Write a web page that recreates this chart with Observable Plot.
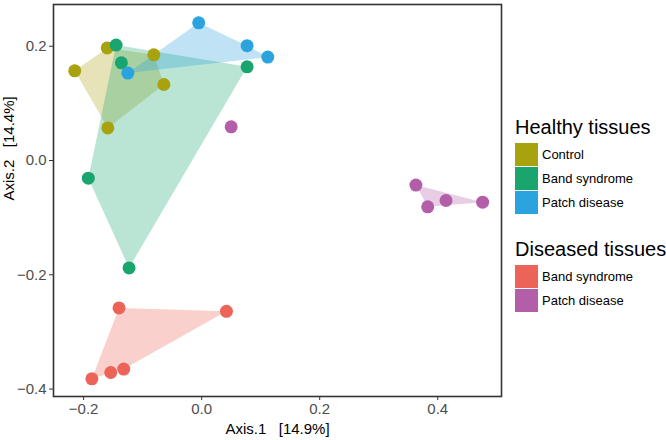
<!DOCTYPE html>
<html>
<head>
<meta charset="utf-8">
<script src="https://cdn.jsdelivr.net/npm/d3@7"></script>
<script src="https://cdn.jsdelivr.net/npm/@observablehq/plot@0.6"></script>
<style>
  html, body { margin: 0; padding: 0; background: #fff; }
  body { width: 666px; height: 440px; position: relative; overflow: hidden; font-family: "Liberation Sans", Arial, sans-serif; }
  #chart { position: absolute; left: 0; top: 0; }
  #legend { position: absolute; left: 515px; top: 114px; color: #000; }
  .lg-title { font-size: 20px; line-height: 26px; height: 28px; white-space: nowrap; }
  .lg-row { display: flex; align-items: center; height: 24px; }
  .lg-key { width: 23px; height: 23px; margin-right: 4px; }
  .lg-label { font-size: 13px; }
  .lg-gap { height: 22px; }
</style>
</head>
<body>
<div id="chart"></div>
<div id="legend"></div>
<script>
// Group names and colours
const groupKeys = ["H-Control", "H-Band", "H-Patch", "D-Band", "D-Patch"];
const groupColors = ["#A8A20F", "#1BA56E", "#2AA3DF", "#EC6457", "#B25EA8"];
const legendSections = [
  { title: "Healthy tissues", keys: ["H-Control", "H-Band", "H-Patch"], labels: ["Control", "Band syndrome", "Patch disease"] },
  { title: "Diseased tissues", keys: ["D-Band", "D-Patch"], labels: ["Band syndrome", "Patch disease"] }
];

// Ordination coordinates (Axis.1, Axis.2)
const hControlX = [-0.215, -0.160, -0.081, -0.064, -0.159];
const hControlY = [0.157, 0.197, 0.185, 0.133, 0.057];
const hBandX = [-0.145, -0.136, 0.077, -0.192, -0.123];
const hBandY = [0.202, 0.171, 0.164, -0.031, -0.188];
const hPatchX = [-0.005, 0.077, 0.112, -0.125];
const hPatchY = [0.241, 0.201, 0.181, 0.153];
const dBandX = [-0.140, 0.042, -0.132, -0.154, -0.186];
const dBandY = [-0.258, -0.264, -0.365, -0.371, -0.382];
const dPatchX = [0.050, 0.363, 0.383, 0.414, 0.476];
const dPatchY = [0.059, -0.043, -0.081, -0.070, -0.073];
// whether each sample is part of its group's drawn hull
const dPatchInHull = [false, true, true, true, true];

const xTicks = [-0.2, 0.0, 0.2, 0.4];
const yTicks = [-0.4, -0.2, 0.0, 0.2];

function rows(group, xs, ys, hullFlags) {
  return xs.map((x, i) => ({ group, x, y: ys[i], hull: hullFlags ? hullFlags[i] : true }));
}
const data = [
  ...rows("H-Control", hControlX, hControlY),
  ...rows("H-Band", hBandX, hBandY),
  ...rows("H-Patch", hPatchX, hPatchY),
  ...rows("D-Band", dBandX, dBandY),
  ...rows("D-Patch", dPatchX, dPatchY, dPatchInHull)
];
const hullData = data.filter(d => d.hull);

const fmt = d => d.toFixed(1).replace("-", "\u2212");

const plot = Plot.plot({
  width: 505,
  height: 440,
  marginLeft: 53,
  marginRight: 4,
  marginTop: 4,
  marginBottom: 44,
  style: { fontFamily: "Liberation Sans, Arial, sans-serif", background: "#fff" },
  x: { domain: [-0.251, 0.508], ticks: xTicks, tickFormat: fmt, label: null },
  y: { domain: [-0.413, 0.273], ticks: yTicks, tickFormat: fmt, label: null },
  color: { domain: groupKeys, range: groupColors },
  marks: [
    Plot.hull(hullData, { x: "x", y: "y", z: "group", fill: "group", fillOpacity: 0.3, stroke: null }),
    Plot.dot(data, { x: "x", y: "y", fill: "group", r: 6.5, stroke: null }),
    Plot.frame({ stroke: "#333", strokeWidth: 1.6 }),
    Plot.axisX({ ticks: xTicks, tickFormat: fmt, tickSize: 4, tickPadding: 3, fontSize: 15, color: "#4D4D4D", stroke: "#333", label: null }),
    Plot.axisY({ ticks: yTicks, tickFormat: fmt, tickSize: 4, tickPadding: 3, fontSize: 15, color: "#4D4D4D", stroke: "#333", label: null }),
    Plot.text(["Axis.1   [14.9%]"], { frameAnchor: "bottom", dy: 37, fontSize: 15, fill: "#000" }),
    Plot.text(["Axis.2   [14.4%]"], { frameAnchor: "left", dx: -44, rotate: -90, fontSize: 15, fill: "#000" })
  ]
});
document.getElementById("chart").appendChild(plot);

// Legend
const colorOf = k => groupColors[groupKeys.indexOf(k)];
const legend = document.getElementById("legend");
legendSections.forEach((sec, si) => {
  if (si > 0) { const g = document.createElement("div"); g.className = "lg-gap"; legend.appendChild(g); }
  const t = document.createElement("div"); t.className = "lg-title"; t.textContent = sec.title; legend.appendChild(t);
  sec.keys.forEach((k, i) => {
    const r = document.createElement("div"); r.className = "lg-row";
    const sw = document.createElement("div"); sw.className = "lg-key"; sw.style.background = colorOf(k);
    const lb = document.createElement("div"); lb.className = "lg-label"; lb.textContent = sec.labels[i];
    r.appendChild(sw); r.appendChild(lb); legend.appendChild(r);
  });
});
</script>
</body>
</html>
